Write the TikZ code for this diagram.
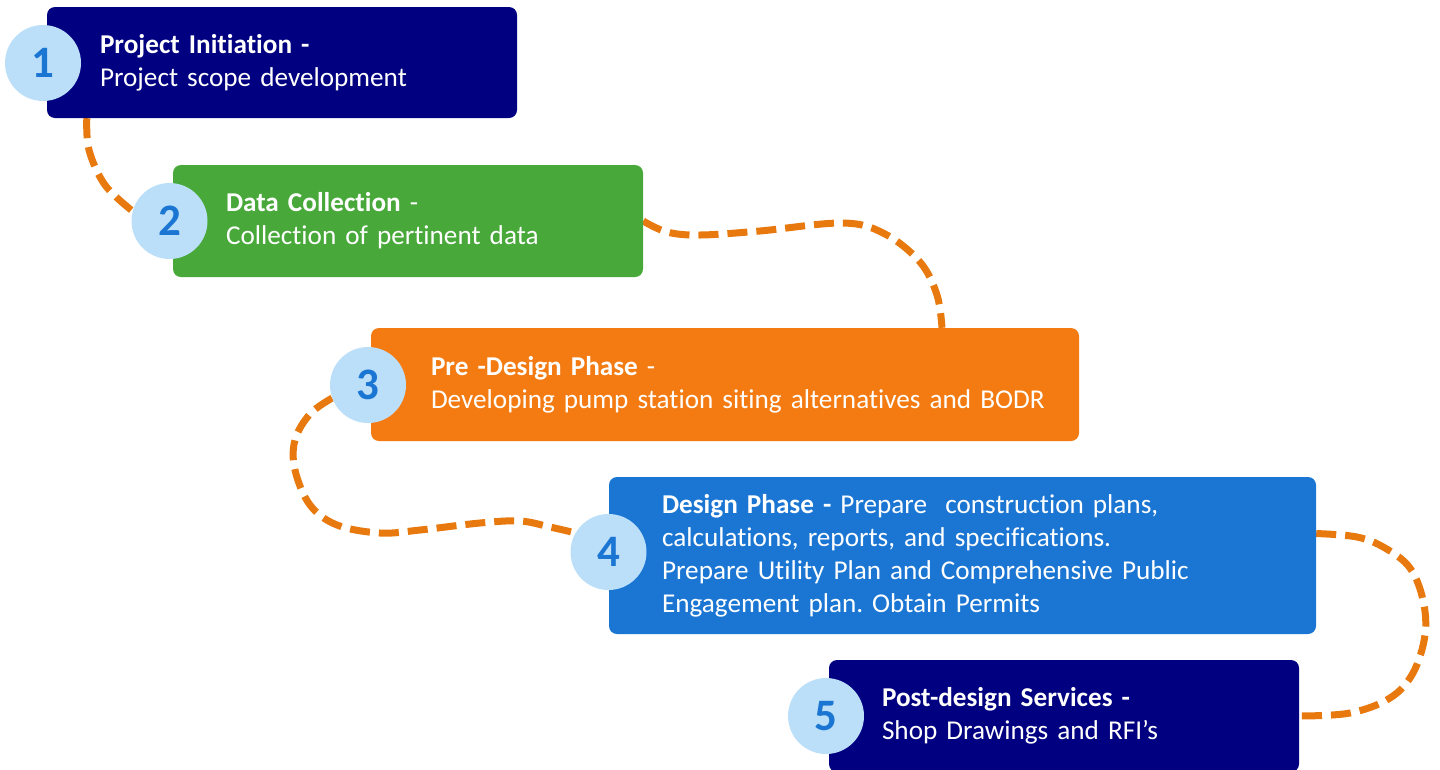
\documentclass[tikz,border=0pt]{standalone}
\usepackage{fontspec}
\setmainfont{Carlito}[Ligatures=NoCommon]
\frenchspacing
\usetikzlibrary{backgrounds}
\definecolor{stepnavy}{HTML}{000080}
\definecolor{stepgreen}{HTML}{48A83A}
\definecolor{steporange}{HTML}{F47B12}
\definecolor{stepblue}{HTML}{1B76D3}
\definecolor{badgefill}{HTML}{BCDFF9}
\definecolor{trailorange}{HTML}{E8790F}
\tikzset{
  stepbox/.style={rectangle,rounded corners=8pt,text=white,align=left,inner xsep=53pt,inner ysep=0pt,text width=364pt,minimum height=112pt,font=\fontsize{27.2}{33}\selectfont},
  badge/.style={circle,fill=badgefill,minimum size=76pt,inner sep=0pt,text=stepblue,font=\fontsize{45}{45}\selectfont\bfseries},
  trail/.style={draw=trailorange,line width=7pt,dash pattern=on 20pt off 9pt}
}
\begin{document}
\begin{tikzpicture}[x=1pt,y=-1pt]
  \useasboundingbox (0,0) rectangle (1440,769);
  % The steps go down to the right; the dashed trail runs behind them.
  \node[stepbox,fill=stepnavy,minimum height=111pt] (b1) at (282,62.5) {\textbf{Project Initiation -}\\Project scope development};
  \node[stepbox,fill=stepgreen] (b2) at (408,221) {\textbf{Data Collection} -\\Collection of pertinent data};
  \node[stepbox,fill=steporange,inner xsep=60pt,text width=588pt,minimum height=113pt] (b3) at (725,384.5) {\textbf{Pre -Design Phase} -\\\mbox{Developing pump station siting alternatives and BODR}};
  \node[stepbox,fill=stepblue,text width=601pt,minimum height=157pt] (b4) at (962.5,555.5) {\textbf{Design Phase -} Prepare\ \ construction plans,\\calculations, reports, and specifications.\\Prepare Utility Plan and Comprehensive Public\\Engagement plan. Obtain Permits};
  \node[stepbox,fill=stepnavy] (b5) at (1064,716) {\textbf{Post-design Services -}\\Shop Drawings and RFI’s};
  \node[badge] (c1) at (43,63) {1};
  \node[badge] (c2) at (169.5,221) {2};
  \node[badge] (c3) at (368,385) {3};
  \node[badge] (c4) at (608.5,552) {4};
  \node[badge] (c5) at (826,716) {5};
  \begin{scope}[on background layer]
    \draw[trail] plot[smooth,tension=0.6] coordinates {([xshift=40pt]b1.south west) (89,150) (105,185) (c2.165)};
    \draw[trail] plot[smooth,tension=0.6] coordinates {(b2.east) (667,232) (700,235) (760,231) (843,223) (885,234) (920,262) (937,295) ([xshift=217pt]b3.north)};
    \draw[trail] plot[smooth,tension=0.6] coordinates {(c3.200) (310,414) (295,440) (295,470) (310,505) (337,525) (380,533) (420,530) (480,523) (520,521) (550,527) (c4.150)};
    \draw[trail] plot[smooth,tension=0.6] coordinates {([yshift=22pt]b4.east) (1357,537) (1385,548) (1410,568) (1423,600) (1425,635) (1413,673) (1390,698) (1350,713) (b5.east)};
  \end{scope}
\end{tikzpicture}
\end{document}
